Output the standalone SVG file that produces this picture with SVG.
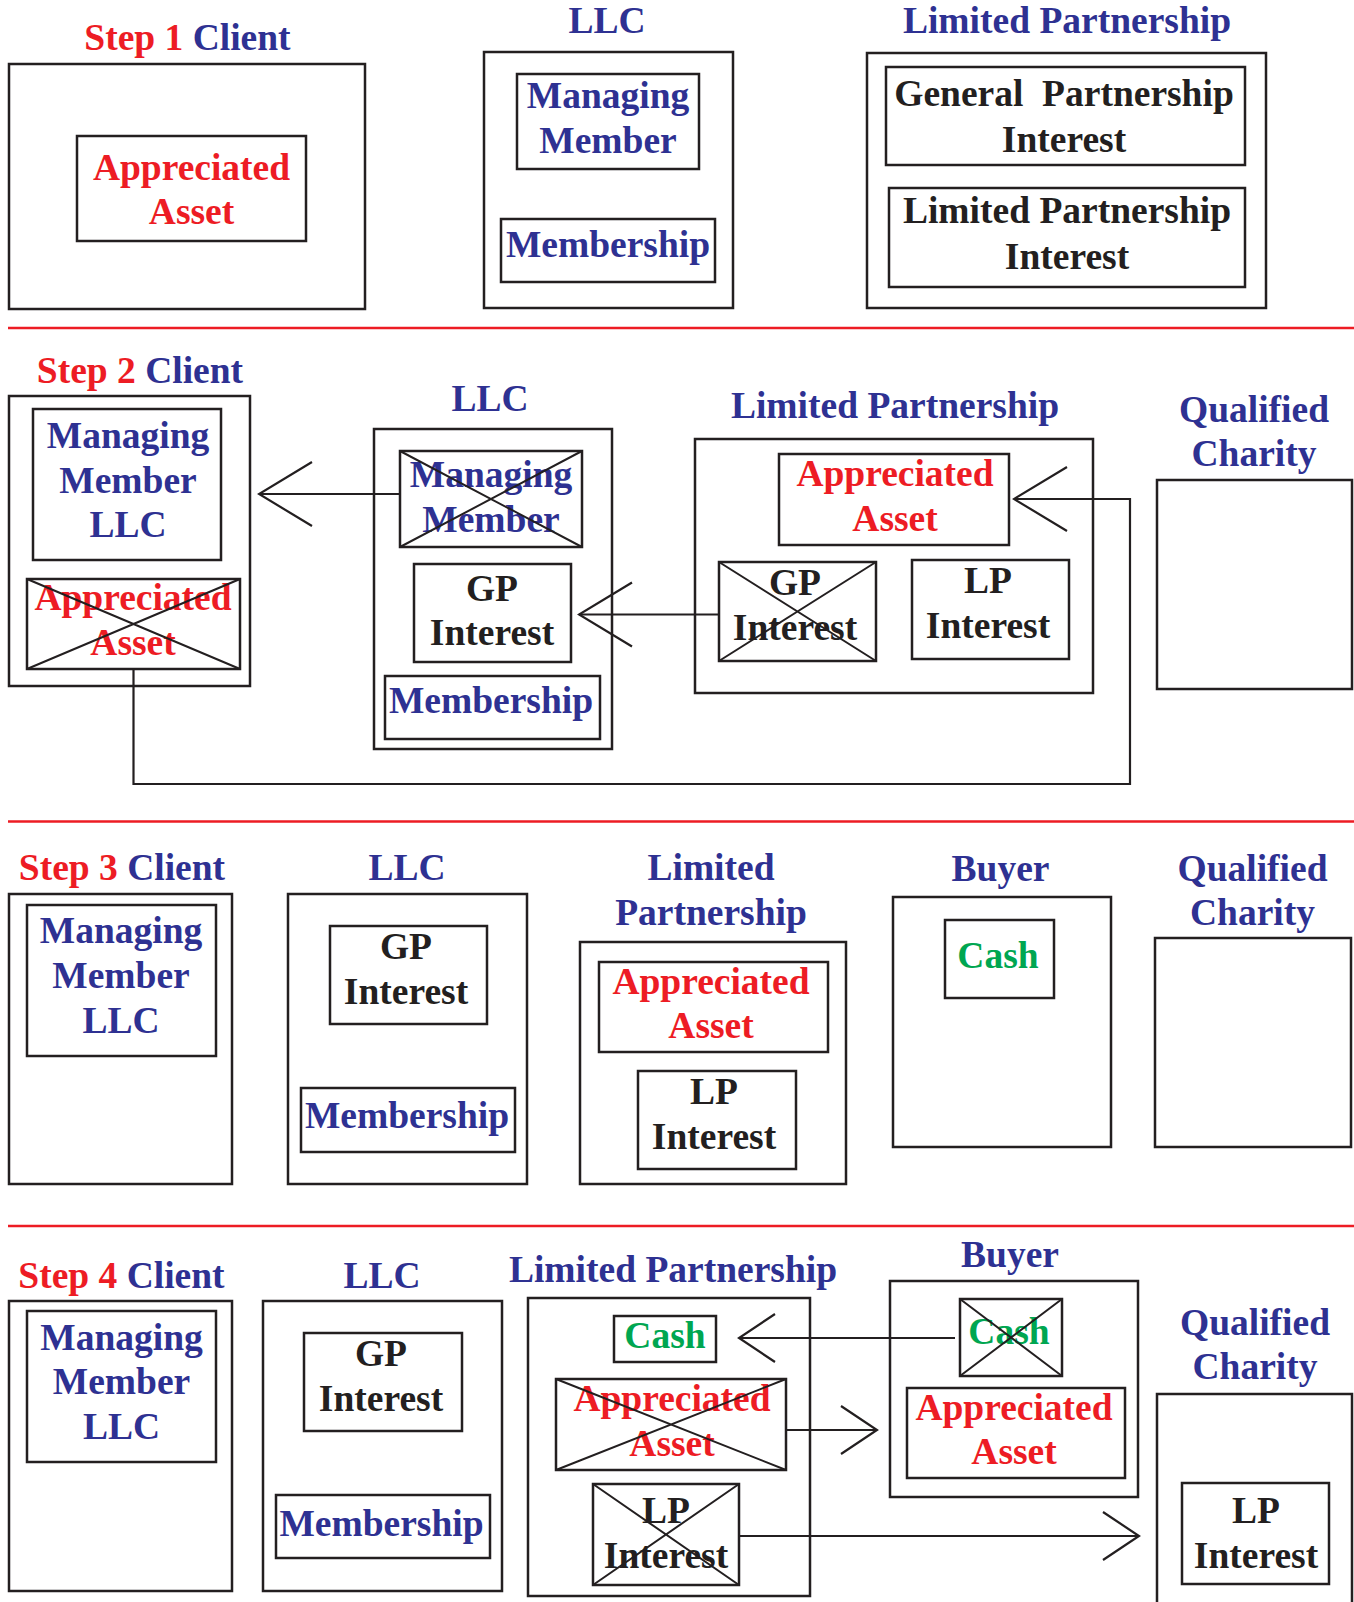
<svg xmlns="http://www.w3.org/2000/svg" width="1354" height="1602" viewBox="0 0 1354 1602">
<style>
.t{font-family:"Liberation Serif","Times New Roman",serif;font-weight:bold;font-size:37.5px;text-anchor:middle}
.b{fill:#2e3192}.r{fill:#ed1c24}.g{fill:#00a651}.k{fill:#231f20}
.box{fill:none;stroke:#231f20;stroke-width:2.5}
.x{stroke:#231f20;stroke-width:2;fill:none}
.sep{stroke:#ed1c24;stroke-width:2.5}
.con{fill:none;stroke:#231f20;stroke-width:2.2}
</style>
<defs>
<marker id="big" viewBox="-56 -36 58 72" markerWidth="58" markerHeight="72" refX="0" refY="0" orient="auto" markerUnits="userSpaceOnUse"><path d="M-53,-32 L0,0 L-53,32" fill="none" stroke="#231f20" stroke-width="2.2"/></marker>
<marker id="small" viewBox="-40 -27 42 54" markerWidth="42" markerHeight="54" refX="0" refY="0" orient="auto" markerUnits="userSpaceOnUse"><path d="M-36,-24 L0,0 L-36,24" fill="none" stroke="#231f20" stroke-width="2.2"/></marker>
</defs>
<rect width="1354" height="1602" fill="#fff"/>

<g id="separators">
<line class="sep" x1="8" y1="328" x2="1354" y2="328"/>
<line class="sep" x1="8" y1="821.5" x2="1354" y2="821.5"/>
<line class="sep" x1="8" y1="1226" x2="1354" y2="1226"/>
</g>

<!-- Step 1 -->
<g id="step1-client">
<text class="t" x="187.5" y="50"><tspan class="r">Step 1</tspan> <tspan class="b">Client</tspan></text>
<rect class="box" x="9" y="64" width="356" height="245"/>
</g>
<g id="step1-asset">
<rect class="box" x="77" y="136" width="229" height="105"/>
<text class="t r" x="191.5" y="180">Appreciated</text>
<text class="t r" x="191.5" y="224">Asset</text>
</g>
<g id="step1-llc">
<text class="t b" x="607" y="33">LLC</text>
<rect class="box" x="484" y="52" width="249" height="256"/>
</g>
<g id="step1-mm">
<rect class="box" x="517" y="74" width="182" height="95"/>
<text class="t b" x="608" y="108">Managing</text>
<text class="t b" x="608" y="153">Member</text>
</g>
<g id="step1-membership">
<rect class="box" x="501" y="219" width="214" height="63"/>
<text class="t b" x="608" y="257">Membership</text>
</g>
<g id="step1-lp">
<text class="t b" x="1067" y="33">Limited Partnership</text>
<rect class="box" x="867" y="53" width="399" height="255"/>
</g>
<g id="step1-gpi">
<rect class="box" x="886" y="67" width="359" height="98"/>
<text class="t k" x="1064" y="106" xml:space="preserve">General  Partnership</text>
<text class="t k" x="1064" y="152">Interest</text>
</g>
<g id="step1-lpi">
<rect class="box" x="889" y="188" width="356" height="99"/>
<text class="t k" x="1067" y="223">Limited Partnership</text>
<text class="t k" x="1067" y="269">Interest</text>
</g>

<!-- Step 2 -->
<g id="step2-client">
<text class="t" x="140" y="383"><tspan class="r">Step 2</tspan> <tspan class="b">Client</tspan></text>
<rect class="box" x="9" y="396" width="241" height="290"/>
</g>
<g id="step2-mmllc">
<rect class="box" x="33" y="409" width="188" height="151"/>
<text class="t b" x="128" y="448">Managing</text>
<text class="t b" x="128" y="493">Member</text>
<text class="t b" x="128" y="537">LLC</text>
</g>
<g id="step2-asset-x">
<rect class="box" x="27" y="579" width="213" height="90"/>
<text class="t r" x="133" y="610">Appreciated</text>
<text class="t r" x="133" y="655">Asset</text>
<path class="x" d="M27,579 L240,669 M27,669 L240,579"/>
</g>
<g id="step2-llc">
<text class="t b" x="490" y="411">LLC</text>
<rect class="box" x="374" y="429" width="238" height="320"/>
</g>
<g id="step2-mm-x">
<rect class="box" x="400" y="451" width="182" height="96"/>
<text class="t b" x="491" y="487">Managing</text>
<text class="t b" x="491" y="532">Member</text>
<path class="x" d="M400,451 L582,547 M400,547 L582,451"/>
</g>
<g id="step2-gp">
<rect class="box" x="414" y="564" width="157" height="98"/>
<text class="t k" x="492" y="601">GP</text>
<text class="t k" x="492" y="645">Interest</text>
</g>
<g id="step2-membership">
<rect class="box" x="385" y="676" width="215" height="63"/>
<text class="t b" x="491" y="713">Membership</text>
</g>
<g id="step2-lp">
<text class="t b" x="895" y="418">Limited Partnership</text>
<rect class="box" x="695" y="439" width="398" height="254"/>
</g>
<g id="step2-asset">
<rect class="box" x="779" y="454" width="230" height="91"/>
<text class="t r" x="895" y="486">Appreciated</text>
<text class="t r" x="895" y="531">Asset</text>
</g>
<g id="step2-gp-x">
<rect class="box" x="719" y="562" width="157" height="99"/>
<text class="t k" x="795" y="595">GP</text>
<text class="t k" x="795" y="640">Interest</text>
<path class="x" d="M719,562 L876,661 M719,661 L876,562"/>
</g>
<g id="step2-lpi">
<rect class="box" x="912" y="560" width="157" height="99"/>
<text class="t k" x="988" y="593">LP</text>
<text class="t k" x="988" y="638">Interest</text>
</g>
<g id="step2-charity">
<text class="t b" x="1254" y="422">Qualified</text>
<text class="t b" x="1254" y="466">Charity</text>
<rect class="box" x="1157" y="480" width="195" height="209"/>
</g>

<!-- Step 3 -->
<g id="step3-client">
<text class="t" x="122" y="880"><tspan class="r">Step 3</tspan> <tspan class="b">Client</tspan></text>
<rect class="box" x="9" y="894" width="223" height="290"/>
</g>
<g id="step3-mmllc">
<rect class="box" x="27" y="905" width="189" height="151"/>
<text class="t b" x="121" y="943">Managing</text>
<text class="t b" x="121" y="988">Member</text>
<text class="t b" x="121" y="1033">LLC</text>
</g>
<g id="step3-llc">
<text class="t b" x="407" y="880">LLC</text>
<rect class="box" x="288" y="894" width="239" height="290"/>
</g>
<g id="step3-gp">
<rect class="box" x="330" y="926" width="157" height="98"/>
<text class="t k" x="406" y="959">GP</text>
<text class="t k" x="406" y="1003.5">Interest</text>
</g>
<g id="step3-membership">
<rect class="box" x="301" y="1088" width="214" height="64"/>
<text class="t b" x="407" y="1128">Membership</text>
</g>
<g id="step3-lp">
<text class="t b" x="711" y="880">Limited</text>
<text class="t b" x="711" y="925">Partnership</text>
<rect class="box" x="580" y="942" width="266" height="242"/>
</g>
<g id="step3-asset">
<rect class="box" x="599" y="962" width="229" height="90"/>
<text class="t r" x="711" y="994">Appreciated</text>
<text class="t r" x="711" y="1038">Asset</text>
</g>
<g id="step3-lpi">
<rect class="box" x="638" y="1071" width="158" height="98"/>
<text class="t k" x="714" y="1104">LP</text>
<text class="t k" x="714" y="1149">Interest</text>
</g>
<g id="step3-buyer">
<text class="t b" x="1000.5" y="880.5">Buyer</text>
<rect class="box" x="893" y="897" width="218" height="250"/>
</g>
<g id="step3-cash">
<rect class="box" x="945" y="920" width="109" height="78"/>
<text class="t g" x="998" y="967.5">Cash</text>
</g>
<g id="step3-charity">
<text class="t b" x="1252.5" y="880.5">Qualified</text>
<text class="t b" x="1252.5" y="925">Charity</text>
<rect class="box" x="1155" y="938" width="196" height="209"/>
</g>

<!-- Step 4 -->
<g id="step4-client">
<text class="t" x="121.5" y="1288"><tspan class="r">Step 4</tspan> <tspan class="b">Client</tspan></text>
<rect class="box" x="9" y="1301" width="223" height="290"/>
</g>
<g id="step4-mmllc">
<rect class="box" x="27" y="1311" width="189" height="151"/>
<text class="t b" x="121.5" y="1350">Managing</text>
<text class="t b" x="121.5" y="1394">Member</text>
<text class="t b" x="121.5" y="1439">LLC</text>
</g>
<g id="step4-llc">
<text class="t b" x="382" y="1288">LLC</text>
<rect class="box" x="263" y="1301" width="239" height="290"/>
</g>
<g id="step4-gp">
<rect class="box" x="304" y="1333" width="158" height="98"/>
<text class="t k" x="381" y="1366">GP</text>
<text class="t k" x="381" y="1411">Interest</text>
</g>
<g id="step4-membership">
<rect class="box" x="276" y="1495" width="214" height="63"/>
<text class="t b" x="381.5" y="1536">Membership</text>
</g>
<g id="step4-lp">
<text class="t b" x="673" y="1282">Limited Partnership</text>
<rect class="box" x="528" y="1298" width="282" height="298"/>
</g>
<g id="step4-cash">
<rect class="box" x="614" y="1316" width="102" height="46"/>
<text class="t g" x="665" y="1348">Cash</text>
</g>
<g id="step4-asset-x">
<rect class="box" x="556" y="1379" width="230" height="91"/>
<text class="t r" x="672" y="1411">Appreciated</text>
<text class="t r" x="672" y="1456">Asset</text>
<path class="x" d="M556,1379 L786,1470 M556,1470 L786,1379"/>
</g>
<g id="step4-lpi-x">
<rect class="box" x="593" y="1484" width="146" height="101"/>
<text class="t k" x="666" y="1523">LP</text>
<text class="t k" x="666" y="1568">Interest</text>
<path class="x" d="M593,1484 L739,1585 M593,1585 L739,1484"/>
</g>
<g id="step4-buyer">
<text class="t b" x="1010" y="1267">Buyer</text>
<rect class="box" x="890" y="1281" width="248" height="216"/>
</g>
<g id="step4-cash-x">
<rect class="box" x="960" y="1299" width="102" height="77"/>
<text class="t g" x="1009" y="1344">Cash</text>
<path class="x" d="M960,1299 L1062,1376 M960,1376 L1062,1299"/>
</g>
<g id="step4-asset">
<rect class="box" x="907" y="1388" width="218" height="90"/>
<text class="t r" x="1014" y="1420">Appreciated</text>
<text class="t r" x="1014" y="1464">Asset</text>
</g>
<g id="step4-charity">
<text class="t b" x="1255" y="1335">Qualified</text>
<text class="t b" x="1255" y="1379">Charity</text>
<rect class="box" x="1157" y="1394" width="195" height="230"/>
</g>
<g id="step4-lpi">
<rect class="box" x="1182" y="1483" width="147" height="101"/>
<text class="t k" x="1256" y="1523">LP</text>
<text class="t k" x="1256" y="1568">Interest</text>
</g>

<g id="connectors">
<path class="con" d="M400,494 H259" marker-end="url(#big)"/>
<path class="con" d="M719,614.5 H579" marker-end="url(#big)"/>
<path class="con" d="M133.5,669 V784 H1130 V499 H1014" marker-end="url(#big)"/>
<path class="con" d="M955,1338 H739" marker-end="url(#small)"/>
<path class="con" d="M786,1430 H877" marker-end="url(#small)"/>
<path class="con" d="M739,1536 H1139" marker-end="url(#small)"/>
</g>
</svg>
